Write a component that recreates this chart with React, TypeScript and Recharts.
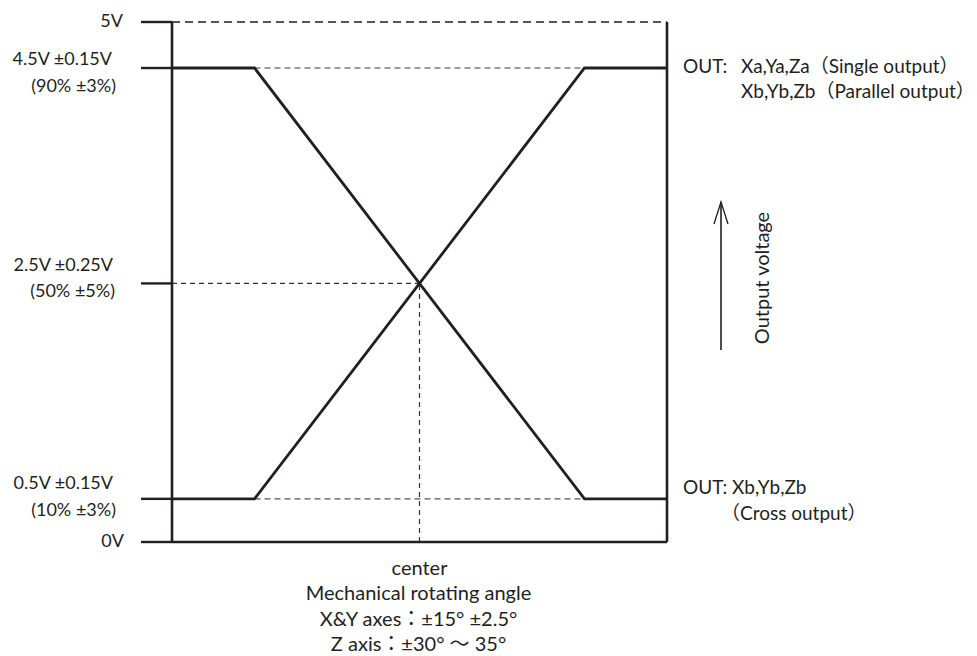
import React from "react";
import { Line, LineChart, ReferenceLine, XAxis, YAxis } from "recharts";

// mechanical angle (deg) and output voltage (V)
const angles = [-22.5, -15, 15, 22.5];
const singleOutput = [0.5, 0.5, 4.5, 4.5];
const crossOutput = [4.5, 4.5, 0.5, 0.5];

const voltTicks = [0, 0.5, 2.5, 4.5, 5];
const voltLabels = [
  ["0V"],
  ["0.5V ±0.15V", "(10% ±3%)"],
  ["2.5V ±0.25V", "(50% ±5%)"],
  ["4.5V ±0.15V", "(90% ±3%)"],
  ["5V"],
];
const outTicks = [0.5, 4.5];
const outLabels = [
  ["OUT: Xb,Yb,Zb", "（Cross output）"],
  ["OUT:", "Xa,Ya,Za（Single output）", "Xb,Yb,Zb（Parallel output）"],
];
const centerTick = "center";
const angleLabels = [
  "Mechanical rotating angle",
  "X&Y axes：±15° ±2.5°",
  "Z axis：±30° ～ 35°",
];
const axisTitle = "Output voltage";
const kneeAngle = 15;
const midVolt = 2.5;

const data = angles.map((a, i) => ({
  angle: a,
  single: singleOutput[i],
  cross: crossOutput[i],
}));

const INK = "#231f20";
const FONT = "Lato, 'Noto Sans CJK JP', sans-serif";

// the drawing is schematic: 0.5V / 4.5V levels sit closer to the rails than to scale
const knotV = [0, 0.5, 4.5, 5];
const knotF = [0, 0.083, 0.9115, 1];
function schematicScale(): any {
  let dom = [0, 5];
  let rng = [0, 1];
  const s: any = (v: number) => {
    const u = ((Number(v) - dom[0]) / (dom[1] - dom[0])) * 5;
    let i = 0;
    while (i < knotV.length - 2 && u > knotV[i + 1]) i++;
    const t = (u - knotV[i]) / (knotV[i + 1] - knotV[i]);
    const f = knotF[i] + t * (knotF[i + 1] - knotF[i]);
    return rng[0] + f * (rng[1] - rng[0]);
  };
  s.domain = (d?: number[]) => {
    if (d === undefined) return dom.slice();
    dom = [Number(d[0]), Number(d[d.length - 1])];
    return s;
  };
  s.range = (r?: number[]) => {
    if (r === undefined) return rng.slice();
    rng = [Number(r[0]), Number(r[r.length - 1])];
    return s;
  };
  s.copy = () => schematicScale().domain(dom).range(rng);
  s.ticks = () => voltTicks.slice();
  return s;
}

const leftLayout: Record<string, { dx: number; dy: number }[]> = {
  "0": [{ dx: -17, dy: -2 }],
  "0.5": [{ dx: -28, dy: -17 }, { dx: -25, dy: 10 }],
  "2.5": [{ dx: -28, dy: -19 }, { dx: -26, dy: 7 }],
  "4.5": [{ dx: -29, dy: -10 }, { dx: -25, dy: 17 }],
  "5": [{ dx: -18, dy: -2 }],
};
const rightLayout: Record<string, { x: number; dy: number }[]> = {
  "4.5": [{ x: 683, dy: -3 }, { x: 741, dy: -3 }, { x: 741, dy: 22 }],
  "0.5": [{ x: 683, dy: -12 }, { x: 721, dy: 14 }],
};

const textStyle = { fontFamily: FONT, fontSize: 20, fill: INK };
const tickStyle = { ...textStyle, fontSize: 18 };
const outStyle = { ...textStyle, fontSize: 19 };

const findIdx = (list: number[], v: any) =>
  list.findIndex((t) => Math.abs(t - Number(v)) < 1e-6);

const VoltTick = (props: any) => {
  const { x, y, payload } = props;
  const key = String(Number(payload.value));
  const lines = voltLabels[findIdx(voltTicks, payload.value)] || [];
  const lay = leftLayout[key] || [];
  return (
    <g>
      {lines.map((t, i) => (
        <text
          key={i}
          x={x + (lay[i]?.dx ?? 0)}
          y={y + (lay[i]?.dy ?? 0)}
          textAnchor="end"
          dominantBaseline="central"
          {...tickStyle}
        >
          {t}
        </text>
      ))}
    </g>
  );
};

const OutTick = (props: any) => {
  const { y, payload } = props;
  const key = String(Number(payload.value));
  const lines = outLabels[findIdx(outTicks, payload.value)] || [];
  const lay = rightLayout[key] || [];
  return (
    <g>
      {lines.map((t, i) => (
        <text
          key={i}
          x={lay[i]?.x ?? 683}
          y={y + (lay[i]?.dy ?? 0)}
          textAnchor="start"
          dominantBaseline="central"
          {...outStyle}
        >
          {t}
        </text>
      ))}
    </g>
  );
};

const CenterTick = (props: any) => {
  const { x, y } = props;
  return (
    <text x={x} y={y + 25} textAnchor="middle" dominantBaseline="central" {...textStyle}>
      {centerTick}
    </text>
  );
};

const AngleLabel = (props: any) => {
  const vb = props.viewBox || {};
  const cx = vb.x + vb.width / 2 - 1;
  return (
    <g>
      {angleLabels.map((t, i) => (
        <text
          key={i}
          x={cx}
          y={vb.y + 50 + i * 25.5}
          textAnchor="middle"
          dominantBaseline="central"
          {...textStyle}
        >
          {t}
        </text>
      ))}
    </g>
  );
};

const VoltageTitle = (props: any) => {
  const vb = props.viewBox || {};
  const ax = vb.x + 54;
  const tx = vb.x + 94;
  const ty = vb.y + 256;
  return (
    <g>
      <path d={`M${ax} ${vb.y + 328} V${vb.y + 180}`} stroke={INK} strokeWidth={1.6} fill="none" />
      <path
        d={`M${ax - 7} ${vb.y + 202} L${ax} ${vb.y + 180} L${ax + 7} ${vb.y + 202}`}
        stroke={INK}
        strokeWidth={1.3}
        fill="none"
      />
      <text
        x={tx}
        y={ty}
        transform={`rotate(-90 ${tx} ${ty})`}
        textAnchor="middle"
        dominantBaseline="central"
        {...textStyle}
      >
        {axisTitle}
      </text>
    </g>
  );
};

const solid = { stroke: INK, strokeWidth: 2.6 };

export default function App() {
  const [xMin, xMax] = [angles[0], angles[angles.length - 1]];
  return (
    <div style={{ position: "absolute", left: 0, top: 0, background: "#fff" }}>
      <LineChart width={977} height={656} data={data} margin={{ top: 22, right: 0, left: 0, bottom: 0 }}>
        <XAxis
          dataKey="angle"
          type="number"
          domain={[xMin, xMax]}
          ticks={[0]}
          tickLine={false}
          tickSize={0}
          tickMargin={0}
          axisLine={solid}
          height={114}
          tick={(p: any) => <CenterTick {...p} />}
          label={<AngleLabel />}
        />
        <YAxis
          yAxisId="left"
          type="number"
          domain={[0, 5]}
          scale={schematicScale()}
          ticks={voltTicks}
          interval={0}
          width={172}
          tickSize={31}
          tickMargin={0}
          tickLine={{ stroke: INK, strokeWidth: 2.4 }}
          axisLine={solid}
          tick={(p: any) => <VoltTick {...p} />}
        />
        <YAxis
          yAxisId="right"
          type="number"
          orientation="right"
          domain={[0, 5]}
          scale={schematicScale()}
          ticks={outTicks}
          interval={0}
          width={310}
          tickSize={0}
          tickLine={false}
          axisLine={solid}
          tick={(p: any) => <OutTick {...p} />}
          label={<VoltageTitle />}
        />
        <ReferenceLine yAxisId="left" y={5} stroke={INK} strokeWidth={1.3} strokeDasharray="8 5" />
        <ReferenceLine
          yAxisId="left"
          segment={[{ x: -kneeAngle, y: 4.5 }, { x: kneeAngle, y: 4.5 }]}
          stroke="#3a3a3a"
          strokeWidth={1.2}
          strokeDasharray="6 4"
        />
        <ReferenceLine
          yAxisId="left"
          segment={[{ x: -kneeAngle, y: 0.5 }, { x: kneeAngle, y: 0.5 }]}
          stroke="#555"
          strokeWidth={1.2}
          strokeDasharray="6 4"
        />
        <ReferenceLine
          yAxisId="left"
          segment={[{ x: xMin, y: midVolt }, { x: 0, y: midVolt }]}
          stroke="#333"
          strokeWidth={1.2}
          strokeDasharray="5 4"
        />
        <ReferenceLine
          yAxisId="left"
          segment={[{ x: 0, y: 0 }, { x: 0, y: midVolt }]}
          stroke="#333"
          strokeWidth={1.2}
          strokeDasharray="5 4"
        />
        <Line
          yAxisId="left"
          dataKey="single"
          type="linear"
          stroke={INK}
          strokeWidth={2.8}
          dot={false}
          isAnimationActive={false}
        />
        <Line
          yAxisId="right"
          dataKey="cross"
          type="linear"
          stroke={INK}
          strokeWidth={2.8}
          dot={false}
          isAnimationActive={false}
        />
      </LineChart>
    </div>
  );
}
